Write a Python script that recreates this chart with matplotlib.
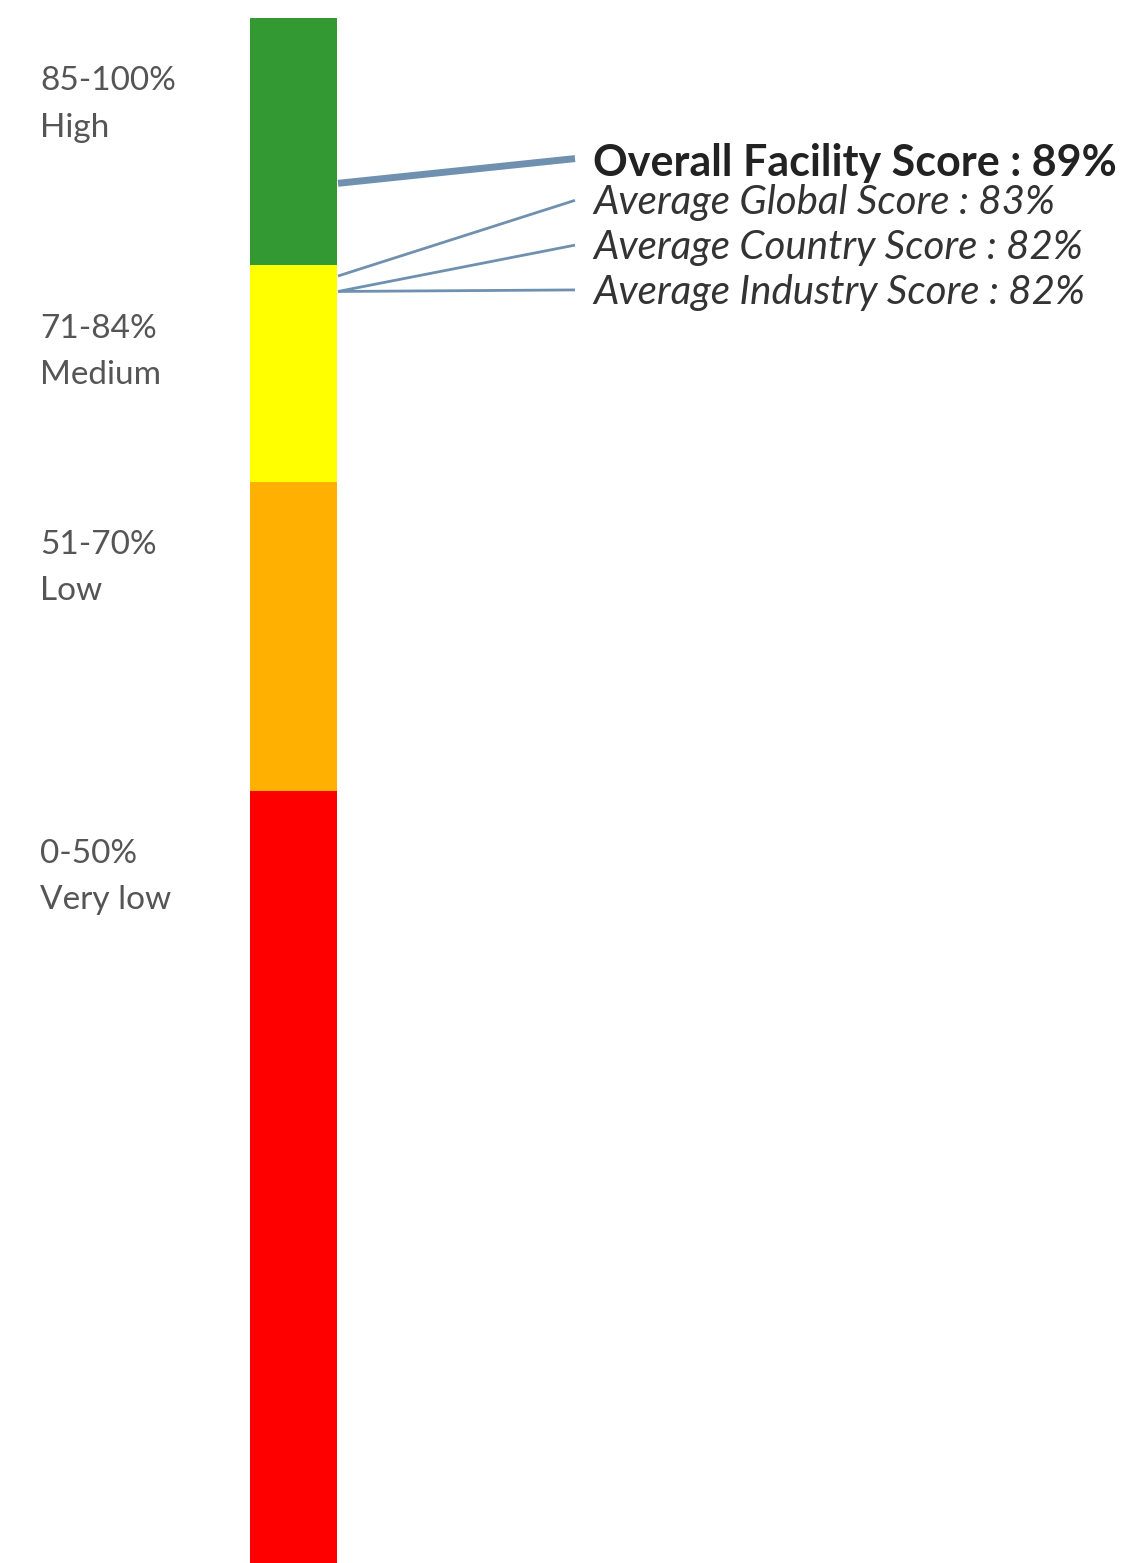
import matplotlib
matplotlib.use("Agg")
import matplotlib.pyplot as plt

# Data
band_lows = [84, 70, 50, 0]
band_highs = [100, 84, 70, 50]
band_colors = ["#339933", "#FFFF00", "#FFB000", "#FF0000"]
band_ranges = ["85-100%", "71-84%", "51-70%", "0-50%"]
band_names = ["High", "Medium", "Low", "Very low"]

score_labels = ["Overall Facility Score : 89%", "Average Global Score : 83%",
                "Average Country Score : 82%", "Average Industry Score : 82%"]
score_values = [89, 83, 82, 82]
label_anchor = [90.9, 88.2, 85.3, 82.4]  # where leader lines meet the labels

W, H = 1138, 1563
fig = plt.figure(figsize=(W / 100, H / 100), dpi=100)
ax = fig.add_axes([0, 0, 1, 1])
ax.set_xlim(0, W)
ax.set_ylim(0, 100 + 18 / 15.45)
ax.axis("off")

bar_x0, bar_w = 250, 87
for lo, hi, c in zip(band_lows, band_highs, band_colors):
    ax.bar(bar_x0, hi - lo, bottom=lo, width=bar_w, align="edge", color=c, linewidth=0)

for hi, r, n in zip(band_highs, band_ranges, band_names):
    ax.text(40, hi - 4.1, r, fontsize=24, family="Lato", color="#555555", va="center", ha="left")
    ax.text(40, hi - 7.1, n, fontsize=24, family="Lato", color="#555555", va="center", ha="left")

x_start, x_end, x_text = bar_x0 + bar_w + 1, 575, 593
for i, (lab, v, a) in enumerate(zip(score_labels, score_values, label_anchor)):
    lw = 5 if i == 0 else 2
    ax.plot([x_start, x_end], [v + 0.3, a], color="#7090B0", lw=lw, solid_capstyle="butt")
    if i == 0:
        ax.text(x_text, a - 0.3, lab, fontsize=31, family="Lato", fontweight="bold", color="#222222",
                va="center", ha="left")
    else:
        ax.text(x_text, a - 0.15, lab, fontsize=29, family="Lato", style="italic", color="#333333",
                va="center", ha="left")

fig.savefig("out.png", dpi=100, facecolor="white")
